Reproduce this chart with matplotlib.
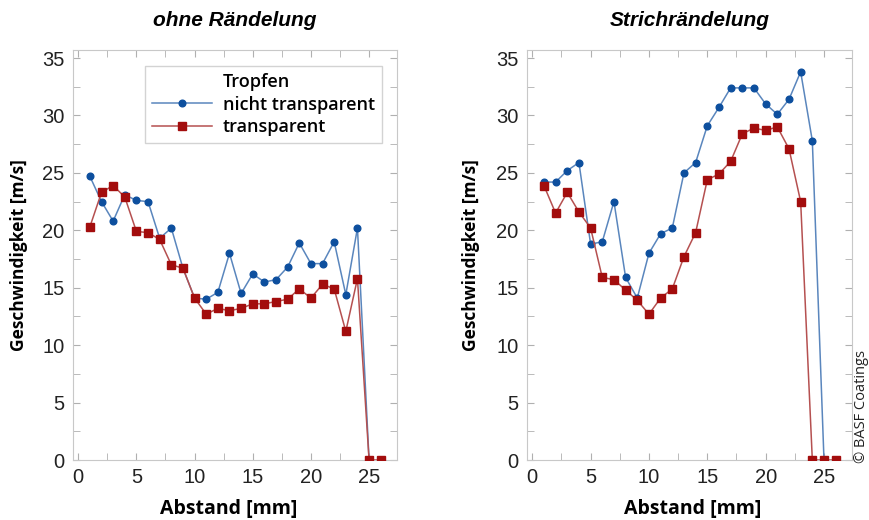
import matplotlib.pyplot as plt
from matplotlib.ticker import MultipleLocator

plt.rcParams['font.family'] = ['Open Sans', 'DejaVu Sans']

# Abstand [mm]
x_blue_left = list(range(1, 26))
x_red_left = list(range(1, 27))
x_blue_right = list(range(1, 26))
x_red_right = list(range(1, 27))

# ohne Rändelung
blue_left = [24.7, 22.5, 20.8, 23.1, 22.6, 22.5, 19.3, 20.2, 16.7, 14.1,
             14.0, 14.6, 18.0, 14.5, 16.2, 15.5, 15.7, 16.8, 18.9, 17.1,
             17.1, 19.0, 14.4, 20.2, 0.0]
red_left = [20.3, 23.3, 23.9, 22.9, 19.9, 19.8, 19.2, 17.0, 16.7, 14.1,
            12.7, 13.2, 13.0, 13.2, 13.6, 13.6, 13.8, 14.0, 14.9, 14.1,
            15.3, 14.9, 11.2, 15.8, 0.0, 0.0]

# Strichrändelung
blue_right = [24.2, 24.2, 25.2, 25.9, 18.8, 19.0, 22.5, 15.9, 14.1, 18.0,
              19.7, 20.2, 25.0, 25.9, 29.1, 30.7, 32.4, 32.4, 32.4, 31.0,
              30.1, 31.4, 33.8, 27.8, 0.0]
red_right = [23.9, 21.5, 23.3, 21.6, 20.2, 15.9, 15.7, 14.8, 13.9, 12.7,
             14.1, 14.9, 17.7, 19.8, 24.4, 24.9, 26.0, 28.4, 28.9, 28.7,
             29.0, 27.1, 22.5, 0.0, 0.0, 0.0]

titles = ['ohne Rändelung', 'Strichrändelung']
legend_title = 'Tropfen'
legend_labels = ['nicht transparent', 'transparent']

blue_line, blue_mark = '#5a86bd', '#0d4f9e'
red_line, red_mark = '#b55050', '#a30d0d'

fig = plt.figure(figsize=(8.7, 5.2), dpi=100)
W, H = 870, 520
ax1 = fig.add_axes([73 / W, 1 - 460 / H, (397 - 73) / W, (460 - 50) / H])
ax2 = fig.add_axes([527 / W, 1 - 460 / H, (852 - 527) / W, (460 - 50) / H])

panels = [(ax1, x_blue_left, blue_left, x_red_left, red_left, -0.138, 0.48),
          (ax2, x_blue_right, blue_right, x_red_right, red_right, -0.146, 0.51)]

for idx, (ax, xb, yb, xr, yr, ylab_x, xlab_x) in enumerate(panels):
    ax.plot([], [], color='none', label=legend_title)
    ax.plot(xb, yb, color=blue_line, linewidth=1.1, marker='o', markersize=4.8,
            markerfacecolor=blue_mark, markeredgecolor=blue_mark,
            label=legend_labels[0], zorder=2)
    ax.plot(xr, yr, color=red_line, linewidth=1.1, marker='s', markersize=5.4,
            markerfacecolor=red_mark, markeredgecolor=red_mark,
            label=legend_labels[1], zorder=3)
    ax.set_xlim(-0.45, 27.4)
    ax.set_ylim(0, 35.7)
    ax.xaxis.set_major_locator(MultipleLocator(5))
    ax.xaxis.set_minor_locator(MultipleLocator(2.5))
    ax.yaxis.set_major_locator(MultipleLocator(5))
    ax.yaxis.set_minor_locator(MultipleLocator(2.5))
    ax.tick_params(which='both', direction='in', top=True, right=True,
                   color='#b0b0b0', labelsize=14.5, labelcolor='#222222')
    ax.tick_params(which='major', length=5, pad=6)
    ax.tick_params(which='minor', length=5)
    for lab in ax.get_xticklabels() + ax.get_yticklabels():
        lab.set_family(['Liberation Sans', 'DejaVu Sans'])
    for sp in ax.spines.values():
        sp.set_color('#c8c8c8')
    ax.set_title(titles[idx], fontsize=15, fontweight='bold', style='italic',
                 family=['Liberation Sans', 'DejaVu Sans'], pad=17)
    ax.set_xlabel('Abstand [mm]', fontsize=14, fontweight='bold')
    ax.set_ylabel('Geschwindigkeit [m/s]', fontsize=12.5, fontweight='bold')
    ax.xaxis.set_label_coords(xlab_x, -0.095)
    ax.yaxis.set_label_coords(ylab_x, 0.5)

leg = ax1.legend(loc='upper right', bbox_to_anchor=(0.954, 0.961),
                 borderaxespad=0, fontsize=13, frameon=True, fancybox=False,
                 edgecolor='#c8c8c8', handlelength=3.3, handletextpad=0.6,
                 borderpad=0.4, labelspacing=0.25)
leg.get_frame().set_linewidth(1.0)
for t in leg.get_texts():
    t.set_fontweight('semibold')

fig.text(0.999, 1 - 463 / H, '© BASF Coatings', rotation=90, fontsize=10.5,
         ha='right', va='bottom', color='#222222')

fig.savefig('out.png', dpi=100)
